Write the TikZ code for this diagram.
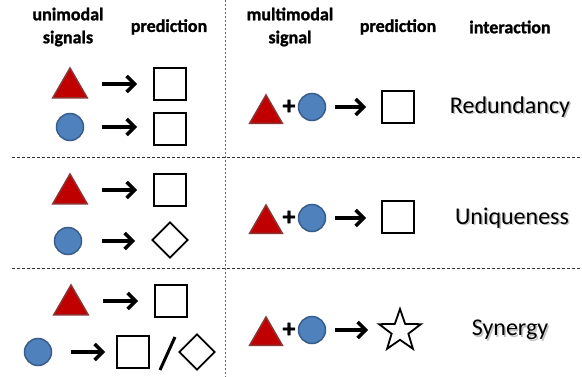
\documentclass[tikz,border=0pt]{standalone}
\usepackage{fontspec}
\setmainfont{Carlito}
\newfontfamily\hdfont{Carlito}[UprightFont={* Bold}, FakeBold=1.2]
\usetikzlibrary{shapes.geometric,arrows.meta}
\definecolor{trifill}{HTML}{C00000}
\definecolor{triedge}{HTML}{8C3333}
\definecolor{circfill}{HTML}{4F81BD}
\definecolor{circedge}{HTML}{385D8A}
\begin{document}
\begin{tikzpicture}[x=1pt,y=-1pt,
 tri/.style={regular polygon, regular polygon sides=3, minimum size=40pt, inner sep=0pt, fill=trifill, draw=triedge, line width=1.5pt},
 trism/.style={tri, minimum size=38pt},
 circ/.style={circle, minimum size=27pt, inner sep=0pt, fill=circfill, draw=circedge, line width=1.5pt},
 sq/.style={rectangle, minimum size=32pt, inner sep=0pt, draw, line width=1.8pt, fill=white},
 dia/.style={diamond, aspect=1, minimum size=36pt, inner sep=0pt, draw, line width=1.8pt, fill=white},
 strs/.style={star, star points=5, star point ratio=2.5, minimum size=44pt, inner sep=0pt, draw, line width=1.8pt, fill=white},
 arr/.style={line width=3.5pt, -{Straight Barb[length=8pt,width=16pt]}},
 head/.style={font=\fontsize{18}{23}\selectfont\hdfont, align=center},
 inter/.style={font=\fontsize{24}{28}\selectfont},
 shadowtxt/.style={inter, text=black!40, opacity=0.6},
 plus/.style={font=\fontsize{26}{26}\selectfont\hdfont, inner sep=0pt},
 vdiv/.style={draw=black!60, line width=1pt, dash pattern=on 2pt off 2pt},
 hdiv/.style={draw=black!80, line width=1pt, dash pattern=on 3pt off 2pt},
]
\useasboundingbox (0,0) rectangle (582,377);
% dividers
\draw[vdiv] (225,0) -- (225,377);
\draw[hdiv] (12,158) -- (582,158);
\draw[hdiv] (12,269) -- (582,269);
% headers
\node[head] (h1) at (68,27) {unimodal\\signals};
\node[head] (h2) at (169,27) {prediction};
\node[head] (h3) at (290,27) {multimodal\\signal};
\node[head] (h4) at (398,27) {prediction};
\node[head] (h5) at (510,27) {interaction};
% row 1 left
\node[tri] (t1) at (70,88) {};
\node[sq] (p1) at (170,84) {};
\node[circ] (c1) at (70,127) {};
\node[sq] (p2) at (170,129) {};
\draw[arr, shorten <=32pt, shorten >=16pt] (t1.center |- p1.west) -- (p1.west);
\draw[arr, shorten <=32pt, shorten >=16pt] (c1.center) -- (c1.center -| p2.west);
% row 2 left
\node[tri] (t2) at (70,194) {};
\node[sq] (p3) at (170,190) {};
\node[circ] (c2) at (68,241) {};
\node[dia] (p4) at (170,240) {};
\draw[arr, shorten <=32pt, shorten >=16pt] (t2.center |- p3.west) -- (p3.west);
\draw[arr, shorten <=34pt, shorten >=16pt] (c2.center) -- (c2.center -| p4.west);
% row 3 left
\node[tri] (t3) at (71,305) {};
\node[sq] (p5) at (171,301) {};
\node[circ] (c3) at (38,352) {};
\node[sq] (p6) at (133,352) {};
\node[dia] (p7) at (197,352) {};
\draw[arr, shorten <=32pt, shorten >=16pt] (t3.center |- p5.west) -- (p5.west);
\draw[arr, shorten <=33pt, shorten >=11pt] (c3.center) -- (c3.center -| p6.west);
\draw[line width=3pt] (160,370) -- (175,337);
% row 1 right
\node[trism] (mt1) at (266,114) {};
\node[plus] (pl1) at (289,107) {+};
\node[circ] (mc1) at (312,107) {};
\node[sq] (q1) at (398,107) {};
\draw[arr, shorten <=23pt, shorten >=15pt] (mc1.center) -- (mc1.center -| q1.west);
\node[shadowtxt] (r1s) at (511.5,108.5) {Redundancy};
\node[inter] (r1) at (510,107) {Redundancy};
% row 2 right
\node[trism] (mt2) at (266,224) {};
\node[plus] (pl2) at (289,218) {+};
\node[circ] (mc2) at (312,218) {};
\node[sq] (q2) at (398,217) {};
\draw[arr, shorten <=23pt, shorten >=15pt] (mc2.center) -- (mc2.center -| q2.west);
\node[shadowtxt] (r2s) at (513.5,219.5) {Uniqueness};
\node[inter] (r2) at (512,218) {Uniqueness};
% row 3 right
\node[trism] (mt3) at (266,336) {};
\node[plus] (pl3) at (289,330) {+};
\node[circ] (mc3) at (312,330) {};
\node[strs] (q3) at (400,331) {};
\draw[arr, shorten <=23pt, shorten >=32pt] (mc3.center) -- (mc3.center -| q3.center);
\node[shadowtxt] (r3s) at (511.5,331.5) {Synergy};
\node[inter] (r3) at (510,330) {Synergy};
\end{tikzpicture}
\end{document}
